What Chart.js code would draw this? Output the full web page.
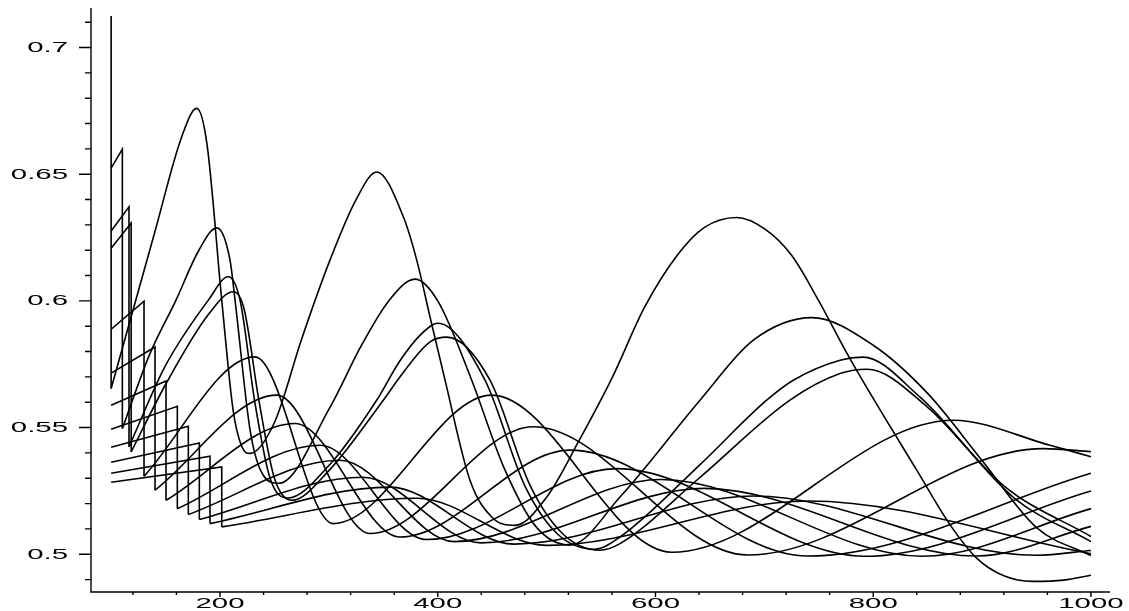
<!DOCTYPE html>
<html>
<head>
<meta charset="utf-8">
<script src="https://cdn.jsdelivr.net/npm/chart.js@4.4.1/dist/chart.umd.min.js"></script>
<style>
  html, body { margin: 0; background: #fff; }
</style>
</head>
<body>
<canvas id="plot" width="1129" height="611"></canvas>
<script>
// tick labels
const xTicks = [200, 400, 600, 800, 1000];
const yTicks = [0.5, 0.55, 0.6, 0.65, 0.7];
const yLabels = ["0.5", "0.55", "0.6", "0.65", "0.7"];

// each curve: start, top of the jump, bottom of the jump (same x), then the smooth part
const c1 = [[100,0.7124],[100,0.5654],[140,0.627],[165,0.665],[178.6,0.676],[188,0.662],[201.6,0.6003],[212,0.557],[220,0.5425],[227.6,0.5398],
  [250,0.552],[275,0.585],[301,0.6161],[325,0.64],[343.9,0.6509],[368.4,0.6332],[380.7,0.6161],[392.9,0.5937],[406.7,0.5687],[429.6,0.5292],[450,0.5145],[471,0.5114],
  [500,0.5225],[530,0.545],[560,0.5695],[590,0.5975],[620,0.618],[645,0.629],[674.6,0.6329],[700,0.6285],[725,0.618],[750,0.6],[775,0.58],[800,0.5615],
  [840,0.5332],[870,0.512],[895,0.4985],[920,0.4915],[946.7,0.4893],[975,0.4898],[1000,0.4917]];
const c2 = [[100,0.6524],[110.3,0.6599],[110.3,0.5496],[135,0.5785],[159.6,0.6003],[180,0.6195],[197,0.6288],[209.2,0.6161],[213.8,0.6003],[228,0.548],[240,0.531],[254,0.528],
  [301,0.558],[330,0.5825],[355,0.6],[379.1,0.6086],[400,0.6],[431.2,0.5687],[460,0.535],[490,0.511],[521.5,0.5036],
  [567.4,0.5226],[640.9,0.5608],[689.9,0.5845],[743.5,0.5934],[800,0.5825],[850,0.5635],[900,0.537],[950,0.5105],[1000,0.4995]];
const c3 = [[100,0.6276],[116.4,0.6371],[116.4,0.5424],[150,0.5745],[189.3,0.6003],[207.6,0.6095],[218.4,0.6003],[232,0.56],[246,0.53],[262,0.5222],
  [300,0.535],[343.9,0.5608],[365,0.5762],[385,0.587],[400,0.5912],[443.4,0.5687],[480,0.527],[510,0.508],[544.4,0.502],
  [567.4,0.5068],[640,0.535],[702.1,0.5608],[726.6,0.5687],[769.5,0.5766],[790.6,0.5778],[843,0.562],[920,0.527],[1000,0.507]];
const c4 = [[100,0.6208],[118.4,0.6307],[118.4,0.5404],[150,0.567],[190,0.595],[212.2,0.6036],[222,0.597],[236,0.56],[250,0.53],[266,0.5213],
  [300,0.533],[350,0.5608],[365.3,0.57],[392.9,0.5838],[408.5,0.5857],[448,0.5687],[485,0.527],[515,0.508],[549,0.5016],
  [567.4,0.5042],[640,0.53],[723.5,0.5608],[769.5,0.5713],[794.3,0.573],[850,0.558],[930,0.522],[1000,0.505]];
const c5 = [[100,0.5888],[130.2,0.5999],[130.2,0.5308],[232.1,0.5779],[304,0.5121],[449.6,0.5628],[615,0.5008],[873.5,0.5529],[962.4,0.543],[1000,0.5385]];
const c6 = [[100,0.5715],[140.3,0.5818],[140.3,0.5253],[252.1,0.5628],[337.8,0.5082],[487.8,0.5503],[685,0.4997],[956.2,0.5417],[1000,0.5405]];
const c7 = [[100,0.5588],[150.4,0.5684],[150.4,0.5213],[268.9,0.5516],[365.3,0.5068],[521.5,0.5411],[740,0.4993],[1000,0.532]];
const c8 = [[100,0.5493],[160.8,0.5584],[160.8,0.518],[291.9,0.543],[389.9,0.5058],[564.4,0.5338],[792,0.4992],[1000,0.525]];
const c9 = [[100,0.5422],[170.9,0.5505],[170.9,0.5157],[310.2,0.5371],[415,0.505],[605,0.5295],[845,0.4992],[1000,0.518]];
const c10 = [[100,0.5363],[181,0.5439],[181,0.5137],[331.3,0.5304],[440,0.5045],[645,0.526],[895,0.4993],[1000,0.511]];
const c11 = [[100,0.532],[190.8,0.5387],[190.8,0.5121],[356.1,0.5265],[470,0.504],[690,0.523],[950,0.4996],[1000,0.5015]];
const c12 = [[100,0.5284],[201.6,0.5345],[201.6,0.5108],[380.9,0.5221],[500,0.5035],[740,0.521],[1000,0.5002]];

const curves = [c1, c2, c3, c4, c5, c6, c7, c8, c9, c10, c11, c12];

// split every curve at its jump: straight saw part + smooth part
const datasets = [];
curves.forEach(pts => {
  let j = 0;
  while (j < pts.length - 1 && pts[j][0] !== pts[j + 1][0]) j++;
  const base = { borderColor: "#000", borderWidth: 1.6, pointRadius: 0, fill: false };
  datasets.push({ ...base, data: pts.slice(0, j + 2), tension: 0 });
  datasets.push({ ...base, data: pts.slice(j + 1), cubicInterpolationMode: "monotone" });
});

// maple style axes: ticks, minor ticks and stretched labels
const mapleAxes = {
  id: "mapleAxes",
  afterDatasetsDraw(chart) {
    const { ctx, chartArea: a, scales: { x, y } } = chart;
    ctx.save();
    ctx.strokeStyle = "#000";
    ctx.lineWidth = 1.4;
    ctx.beginPath();
    ctx.moveTo(a.left, a.top);
    ctx.lineTo(a.left, a.bottom);
    ctx.lineTo(a.right, a.bottom);
    for (let i = 0; i <= 22; i++) {
      const p = y.getPixelForValue(0.49 + i * 0.01);
      ctx.moveTo(a.left, p);
      ctx.lineTo(a.left - (i % 5 === 1 ? 12 : 6), p);
    }
    for (let v = 120; v <= 1000; v += 40) {
      const p = x.getPixelForValue(v);
      ctx.moveTo(p, a.bottom);
      ctx.lineTo(p, a.bottom + (v % 200 === 0 ? 5 : 3));
    }
    ctx.stroke();

    ctx.fillStyle = "#000";
    ctx.font = "14px 'Liberation Sans', Arial, sans-serif";
    ctx.textBaseline = "middle";
    ctx.textAlign = "right";
    yTicks.forEach((v, i) => {
      ctx.save();
      ctx.translate(a.left - 23, y.getPixelForValue(v) + 0.5);
      ctx.scale(2.1, 1);
      ctx.fillText(yLabels[i], 0, 0);
      ctx.restore();
    });
    ctx.textAlign = "center";
    xTicks.forEach(v => {
      ctx.save();
      ctx.translate(x.getPixelForValue(v), a.bottom + 12);
      ctx.scale(2.1, 1);
      ctx.fillText(String(v), 0, 0);
      ctx.restore();
    });
    ctx.restore();
  }
};

new Chart(document.getElementById("plot"), {
  type: "line",
  data: { datasets },
  options: {
    responsive: false,
    animation: false,
    layout: { padding: { left: 91, right: 19, top: 8, bottom: 19 } },
    plugins: { legend: { display: false }, tooltip: { enabled: false } },
    scales: {
      x: { type: "linear", min: 81.5, max: 1017.5, display: false },
      y: { type: "linear", min: 0.4851, max: 0.7156, display: false }
    }
  },
  plugins: [mapleAxes]
});
</script>
</body>
</html>
